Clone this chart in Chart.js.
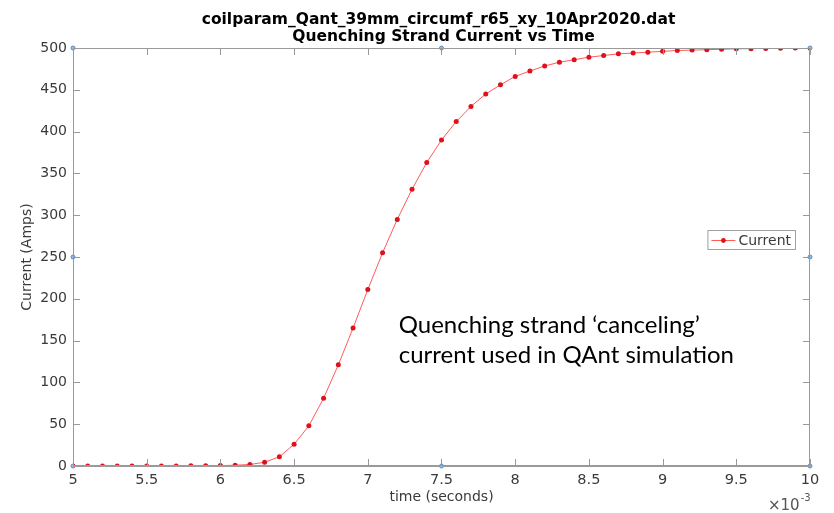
<!DOCTYPE html>
<html>
<head>
<meta charset="utf-8">
<script src="https://cdn.jsdelivr.net/npm/chart.js@4.4.1/dist/chart.umd.min.js"></script>
<style>
  html, body { margin: 0; padding: 0; background: #fff; }
  #wrap { width: 834px; height: 513px; position: relative; }
</style>
</head>
<body>
<div id="wrap"><canvas id="quenchChart"></canvas></div>
<script>
// Datos (tiempo en segundos, corriente en amperios)
const timeSec = [
  0.0050, 0.0051, 0.0052, 0.0053, 0.0054, 0.0055, 0.0056, 0.0057, 0.0058, 0.0059,
  0.0060, 0.0061, 0.0062, 0.0063, 0.0064, 0.0065, 0.0066, 0.0067, 0.0068, 0.0069,
  0.0070, 0.0071, 0.0072, 0.0073, 0.0074, 0.0075, 0.0076, 0.0077, 0.0078, 0.0079,
  0.0080, 0.0081, 0.0082, 0.0083, 0.0084, 0.0085, 0.0086, 0.0087, 0.0088, 0.0089,
  0.0090, 0.0091, 0.0092, 0.0093, 0.0094, 0.0095, 0.0096, 0.0097, 0.0098, 0.0099,
  0.0100
];
const currentAmps = [
  0, 0, 0, 0, 0, 0, 0, 0.1, 0.2, 0.3,
  0.5, 0.9, 1.8, 4.5, 11, 26, 48, 81, 121, 165,
  211, 255, 295, 331, 363, 390, 412, 430, 445, 456,
  466, 472.5, 478.5, 483, 486, 489, 491, 493, 494, 495,
  496, 497, 497.5, 498, 498.5, 499, 499.2, 499.5, 499.7, 499.9,
  500
];

// Marcadores azules de edición de ejes (esquinas y puntos medios)
const handleX = [0.005, 0.005, 0.005, 0.0075, 0.01, 0.01, 0.01, 0.0075];
const handleY = [0, 250, 500, 500, 500, 250, 0, 0];

const xTickLabels = ['5', '5.5', '6', '6.5', '7', '7.5', '8', '8.5', '9', '9.5', '10'];
const yTickLabels = ['0', '50', '100', '150', '200', '250', '300', '350', '400', '450', '500'];

const titleLines = [
  'coilparam_Qant_39mm_circumf_r65_xy_10Apr2020.dat',
  'Quenching Strand Current vs Time'
];
const noteLines = [
  'Quenching strand \u2018canceling\u2019',
  'current used in QAnt simulation'
];

const AXIS_COLOR = '#9a9a9a';
const TEXT_COLOR = '#3a3a3a';
const FONT = 'DejaVu Sans';

// Plugin para el marco, ticks hacia dentro, título, leyenda y textos
const matlabLook = {
  id: 'matlabLook',
  afterDraw(chart) {
    const ctx = chart.ctx;
    const area = chart.chartArea;
    const xs = chart.scales.x;
    const ys = chart.scales.y;
    const tick = 7;

    ctx.save();
    // marco completo
    ctx.strokeStyle = AXIS_COLOR;
    ctx.lineWidth = 1;
    ctx.strokeRect(area.left + 0.5, area.top + 0.5, area.right - area.left - 1, area.bottom - area.top - 1);

    // ticks hacia dentro
    ctx.beginPath();
    xs.ticks.forEach(t => {
      const px = Math.round(xs.getPixelForValue(t.value)) + 0.5;
      ctx.moveTo(px, area.bottom);
      ctx.lineTo(px, area.bottom - tick);
      ctx.moveTo(px, area.top);
      ctx.lineTo(px, area.top + tick);
    });
    ys.ticks.forEach(t => {
      const py = Math.round(ys.getPixelForValue(t.value)) + 0.5;
      ctx.moveTo(area.left, py);
      ctx.lineTo(area.left + tick, py);
      ctx.moveTo(area.right, py);
      ctx.lineTo(area.right - tick, py);
    });
    ctx.stroke();

    // título de dos líneas
    const cx = (area.left + area.right) / 2;
    ctx.fillStyle = '#000';
    ctx.textAlign = 'center';
    ctx.textBaseline = 'alphabetic';
    ctx.font = 'bold 15.5px ' + FONT;
    ctx.fillText(titleLines[0], cx - 3, 24);
    ctx.fillText(titleLines[1], cx + 2, 41);

    // exponente del eje x
    ctx.fillStyle = '#555';
    ctx.textAlign = 'left';
    ctx.font = '15px ' + FONT;
    const ex = area.right - 42;
    ctx.fillText('\u00d710', ex, 510);
    const w = ctx.measureText('\u00d710').width;
    ctx.font = '10px ' + FONT;
    ctx.fillText('-3', ex + w + 1, 501);

    // leyenda
    const ds = chart.data.datasets[0];
    ctx.font = '14px ' + FONT;
    const label = ds.label;
    const tw = ctx.measureText(label).width;
    const boxRight = area.right - 14;
    const boxLeft = boxRight - tw - 36;
    const cy = Math.round(ys.getPixelForValue(270));
    ctx.fillStyle = '#fff';
    ctx.fillRect(boxLeft, cy - 10, boxRight - boxLeft, 20);
    ctx.strokeStyle = '#a0a0a0';
    ctx.strokeRect(boxLeft + 0.5, cy - 10 + 0.5, boxRight - boxLeft - 1, 19);
    ctx.strokeStyle = ds.borderColor;
    ctx.beginPath();
    ctx.moveTo(boxLeft + 4, cy + 0.5);
    ctx.lineTo(boxLeft + 28, cy + 0.5);
    ctx.stroke();
    ctx.fillStyle = ds.pointBackgroundColor;
    ctx.beginPath();
    ctx.arc(boxLeft + 16, cy + 0.5, 2.4, 0, Math.PI * 2);
    ctx.fill();
    ctx.fillStyle = TEXT_COLOR;
    ctx.textBaseline = 'middle';
    ctx.fillText(label, boxLeft + 31, cy + 1);

    // nota
    ctx.fillStyle = '#000';
    ctx.textBaseline = 'alphabetic';
    ctx.font = '24px Lato';
    const nx = xs.getPixelForValue(0.00721);
    ctx.fillText(noteLines[0], nx, ys.getPixelForValue(159));
    ctx.fillText(noteLines[1], nx, ys.getPixelForValue(123));
    ctx.restore();
  }
};

const ctx = document.getElementById('quenchChart').getContext('2d');
const quenchChart = new Chart(ctx, {
  type: 'line',
  data: {
    datasets: [{
      label: 'Current',
      data: timeSec.map((t, i) => ({ x: t, y: currentAmps[i] })),
      borderColor: '#ff5a5a',
      borderWidth: 1,
      pointRadius: 2.5,
      pointBackgroundColor: '#e0101c',
      pointBorderWidth: 0,
      pointHoverRadius: 2.5,
      tension: 0
    }, {
      label: 'handles',
      data: handleX.map((x, i) => ({ x: x, y: handleY[i] })),
      showLine: false,
      pointRadius: 2,
      pointBackgroundColor: '#9dbde0',
      pointBorderColor: '#5f8bc0',
      pointBorderWidth: 1,
      clip: false
    }]
  },
  options: {
    responsive: true,
    maintainAspectRatio: false,
    animation: false,
    layout: { padding: { top: 48, right: 24, left: 0, bottom: 0 } },
    plugins: {
      legend: { display: false },
      title: { display: false },
      tooltip: { enabled: false }
    },
    scales: {
      x: {
        type: 'linear',
        min: 0.005,
        max: 0.01,
        afterFit: s => { s.height = 47; },
        grid: { display: false, drawTicks: false },
        border: { display: true, color: AXIS_COLOR },
        ticks: {
          stepSize: 0.0005,
          padding: 6,
          color: TEXT_COLOR,
          font: { family: FONT, size: 14.5 },
          maxRotation: 0,
          callback: (v, i) => xTickLabels[i]
        },
        title: {
          display: true,
          text: 'time (seconds)',
          color: TEXT_COLOR,
          font: { family: FONT, size: 14 },
          padding: { top: 0, bottom: 7 }
        }
      },
      y: {
        min: 0,
        max: 500,
        afterFit: s => { s.width = 73; },
        grid: { display: false, drawTicks: false },
        border: { display: true, color: AXIS_COLOR },
        ticks: {
          stepSize: 50,
          padding: 6,
          color: TEXT_COLOR,
          font: { family: FONT, size: 14 },
          callback: (v, i) => yTickLabels[i]
        },
        title: {
          display: true,
          text: 'Current (Amps)',
          color: TEXT_COLOR,
          font: { family: FONT, size: 14 },
          padding: { top: 19, bottom: 0 }
        }
      }
    }
  },
  plugins: [matlabLook]
});
</script>
</body>
</html>
